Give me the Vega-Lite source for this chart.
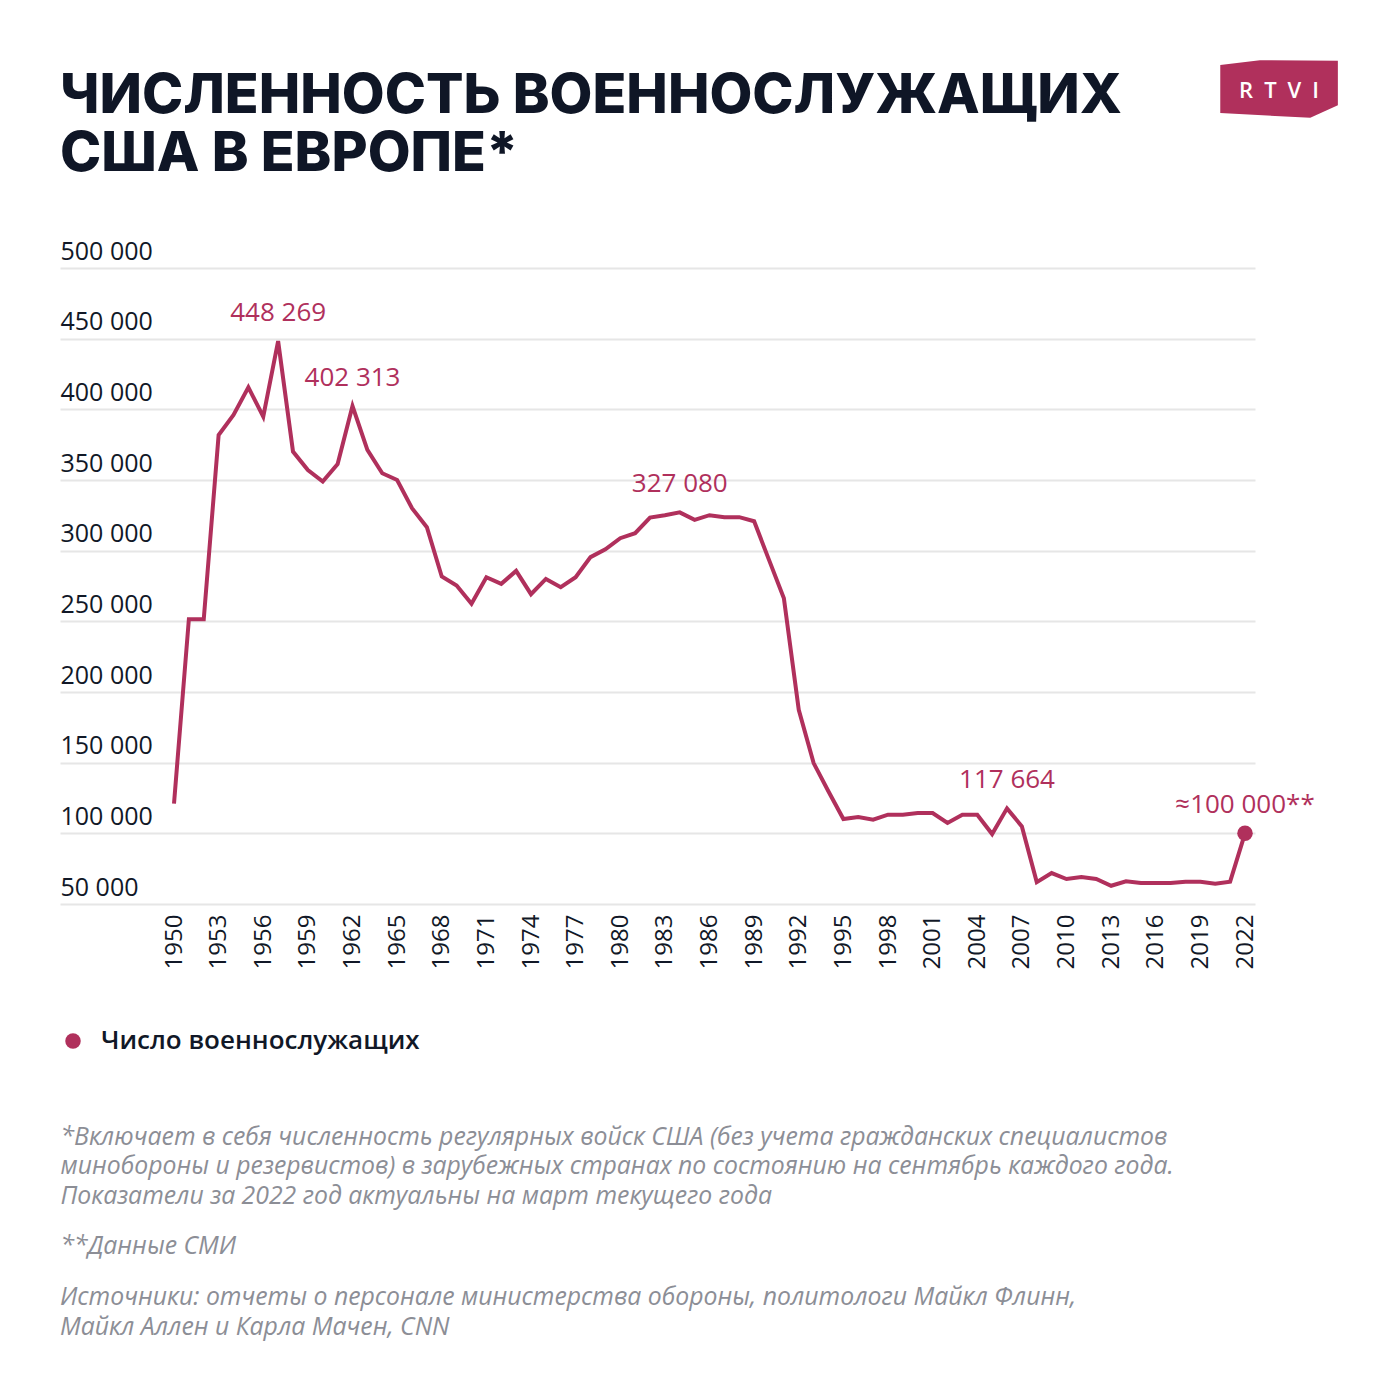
{
  "$schema": "https://vega.github.io/schema/vega-lite/v6.json",
  "width": 1195,
  "height": 636,
  "autosize": {"type": "none"},
  "padding": {"left": 60, "top": 268, "right": 145, "bottom": 496},
  "background": "white",
  "config": {
    "locale": {"number": {"decimal": ",", "thousands": " ", "grouping": [3], "currency": ["", ""]}},
    "view": {"stroke": null},
    "font": "Open Sans"
  },
  "title": {
    "text": ["ЧИСЛЕННОСТЬ ВОЕННОСЛУЖАЩИХ", "США В ЕВРОПЕ*"],
    "anchor": "start",
    "frame": "group",
    "font": "Inter",
    "fontSize": 55.5,
    "fontWeight": 800,
    "color": "#0f1626",
    "lineHeight": 58,
    "offset": 0,
    "dy": 122
  },
  "datasets": {
    "troops": [
      {"year": 1950, "troops": 121000},
      {"year": 1951, "troops": 251500},
      {"year": 1952, "troops": 251500},
      {"year": 1953, "troops": 381800},
      {"year": 1954, "troops": 396000},
      {"year": 1955, "troops": 415600},
      {"year": 1956, "troops": 394800},
      {"year": 1957, "troops": 448269, "label": "448 269"},
      {"year": 1958, "troops": 370100},
      {"year": 1959, "troops": 357100},
      {"year": 1960, "troops": 348900},
      {"year": 1961, "troops": 361300},
      {"year": 1962, "troops": 402313, "label": "402 313"},
      {"year": 1963, "troops": 371300},
      {"year": 1964, "troops": 354800},
      {"year": 1965, "troops": 350000},
      {"year": 1966, "troops": 330000},
      {"year": 1967, "troops": 316600},
      {"year": 1968, "troops": 281700},
      {"year": 1969, "troops": 275300},
      {"year": 1970, "troops": 262400},
      {"year": 1971, "troops": 281200},
      {"year": 1972, "troops": 276500},
      {"year": 1973, "troops": 285700},
      {"year": 1974, "troops": 269200},
      {"year": 1975, "troops": 280000},
      {"year": 1976, "troops": 274200},
      {"year": 1977, "troops": 281200},
      {"year": 1978, "troops": 295400},
      {"year": 1979, "troops": 301000},
      {"year": 1980, "troops": 308800},
      {"year": 1981, "troops": 312400},
      {"year": 1982, "troops": 323400},
      {"year": 1983, "troops": 325100},
      {"year": 1984, "troops": 327080, "label": "327 080"},
      {"year": 1985, "troops": 321800},
      {"year": 1986, "troops": 325100},
      {"year": 1987, "troops": 323700},
      {"year": 1988, "troops": 323700},
      {"year": 1989, "troops": 320800},
      {"year": 1990, "troops": 293500},
      {"year": 1991, "troops": 266400},
      {"year": 1992, "troops": 187400},
      {"year": 1993, "troops": 149700},
      {"year": 1994, "troops": 129600},
      {"year": 1995, "troops": 110100},
      {"year": 1996, "troops": 111500},
      {"year": 1997, "troops": 109600},
      {"year": 1998, "troops": 113200},
      {"year": 1999, "troops": 113200},
      {"year": 2000, "troops": 114400},
      {"year": 2001, "troops": 114400},
      {"year": 2002, "troops": 107300},
      {"year": 2003, "troops": 113200},
      {"year": 2004, "troops": 113200},
      {"year": 2005, "troops": 99500},
      {"year": 2006, "troops": 117664, "label": "117 664"},
      {"year": 2007, "troops": 104900},
      {"year": 2008, "troops": 65500},
      {"year": 2009, "troops": 71900},
      {"year": 2010, "troops": 67700},
      {"year": 2011, "troops": 69100},
      {"year": 2012, "troops": 67700},
      {"year": 2013, "troops": 62900},
      {"year": 2014, "troops": 66000},
      {"year": 2015, "troops": 64800},
      {"year": 2016, "troops": 64800},
      {"year": 2017, "troops": 64800},
      {"year": 2018, "troops": 65800},
      {"year": 2019, "troops": 65800},
      {"year": 2020, "troops": 64400},
      {"year": 2021, "troops": 65800},
      {"year": 2022, "troops": 100000, "label": "≈100 000**"}
    ],
    "brand": [{"brand": "R\u2002T\u2002V\u2002I"}]
  },
  "data": {"name": "troops"},
  "layer": [
    {
      "mark": {"type": "line", "color": "#b0305c", "strokeWidth": 4, "strokeJoin": "miter"},
      "encoding": {
        "x": {
          "field": "year",
          "type": "quantitative",
          "scale": {"domain": [1942.336, 2022.672], "nice": false, "zero": false},
          "axis": {
            "values": [1950, 1953, 1956, 1959, 1962, 1965, 1968, 1971, 1974, 1977, 1980, 1983, 1986, 1989, 1992, 1995, 1998, 2001, 2004, 2007, 2010, 2013, 2016, 2019, 2022],
            "format": "d",
            "labelAngle": 270,
            "labelPadding": 10,
            "labelFont": "Open Sans",
            "labelFontSize": 24,
            "labelFontWeight": 500,
            "labelColor": "#111827",
            "labelFlush": false,
            "labelOverlap": false,
            "grid": false,
            "ticks": false,
            "domain": false,
            "title": [
              "*Включает в себя численность регулярных войск США (без учета гражданских специалистов",
              "минобороны и резервистов) в зарубежных странах по состоянию на сентябрь каждого года.",
              "Показатели за 2022 год актуальны на март текущего года"
            ],
            "titleX": 0,
            "titleY": 240,
            "titleAlign": "left",
            "titleAnchor": "start",
            "titleBaseline": "alphabetic",
            "titleFont": "Open Sans",
            "titleFontSize": 24.8,
            "titleFontStyle": "italic",
            "titleFontWeight": "normal",
            "titleColor": "#8c8e96",
            "titleLineHeight": 29.5,
            "titleLimit": 2000
          }
        },
        "y": {
          "field": "troops",
          "type": "quantitative",
          "scale": {"domain": [50000, 500000], "nice": false, "zero": false},
          "axis": {
            "values": [50000, 100000, 150000, 200000, 250000, 300000, 350000, 400000, 450000, 500000],
            "format": ",d",
            "labelAlign": "left",
            "labelBaseline": "alphabetic",
            "labelPadding": 0,
            "labelOffset": -9,
            "labelFont": "Open Sans",
            "labelFontSize": 25,
            "labelFontWeight": 500,
            "labelColor": "#111827",
            "labelFlush": false,
            "labelOverlap": false,
            "ticks": false,
            "tickSize": 0,
            "domain": false,
            "grid": true,
            "gridColor": "#e6e6e6",
            "gridWidth": 2,
            "title": "**Данные СМИ",
            "titleAngle": 0,
            "titleX": 0,
            "titleY": 985,
            "titleAlign": "left",
            "titleBaseline": "alphabetic",
            "titleFont": "Open Sans",
            "titleFontSize": 24.8,
            "titleFontStyle": "italic",
            "titleFontWeight": "normal",
            "titleColor": "#8c8e96",
            "titleLimit": 2000
          }
        }
      }
    },
    {
      "transform": [{"filter": "datum.year == 2022"}],
      "mark": {"type": "point", "filled": true, "opacity": 1, "size": 240, "shape": "circle"},
      "encoding": {
        "x": {"field": "year", "type": "quantitative"},
        "y": {"field": "troops", "type": "quantitative"},
        "color": {
          "datum": "Число военнослужащих",
          "scale": {"range": ["#b0305c"]},
          "legend": {
            "orient": "none",
            "legendX": 0,
            "legendY": 760,
            "symbolType": "circle",
            "symbolSize": 240,
            "symbolStrokeWidth": 0,
            "labelFont": "Open Sans",
            "labelFontSize": 26,
            "labelFontWeight": 600,
            "labelColor": "#111827",
            "labelOffset": 15,
            "labelLimit": 1000,
            "title": [
              "Источники: отчеты о персонале министерства обороны, политологи Майкл Флинн,",
              "Майкл Аллен и Карла Мачен, CNN"
            ],
            "titleOrient": "bottom",
            "titlePadding": 231,
            "titleAnchor": "start",
            "titleAlign": "left",
            "titleFont": "Open Sans",
            "titleFontSize": 24.8,
            "titleFontStyle": "italic",
            "titleFontWeight": "normal",
            "titleColor": "#8c8e96",
            "titleLineHeight": 30,
            "titleLimit": 2000
          }
        }
      }
    },
    {
      "transform": [{"filter": "isValid(datum.label)"}],
      "mark": {"type": "text", "color": "#b0305c", "font": "Open Sans", "fontSize": 26, "fontWeight": 500, "dy": -20, "baseline": "alphabetic", "align": "center"},
      "encoding": {
        "x": {"field": "year", "type": "quantitative"},
        "y": {"field": "troops", "type": "quantitative"},
        "text": {"field": "label"}
      }
    },
    {
      "data": {"name": "brand"},
      "mark": {"type": "point", "filled": true, "opacity": 1, "clip": false, "color": "#b0305c", "size": 14400, "shape": "M-0.98,-0.4L-0.32,-0.48L0.98,-0.47L0.98,0.27L0.52,0.48L-0.98,0.4Z"},
      "encoding": {
        "x": {"datum": 2024.29, "type": "quantitative"},
        "y": {"datum": 626650, "type": "quantitative"}
      }
    },
    {
      "data": {"name": "brand"},
      "mark": {"type": "text", "clip": false, "color": "white", "font": "Open Sans", "fontSize": 22, "fontWeight": 600, "baseline": "middle", "align": "center", "dy": 2},
      "encoding": {
        "x": {"datum": 2024.29, "type": "quantitative"},
        "y": {"datum": 626650, "type": "quantitative"},
        "text": {"field": "brand"}
      }
    }
  ]
}
